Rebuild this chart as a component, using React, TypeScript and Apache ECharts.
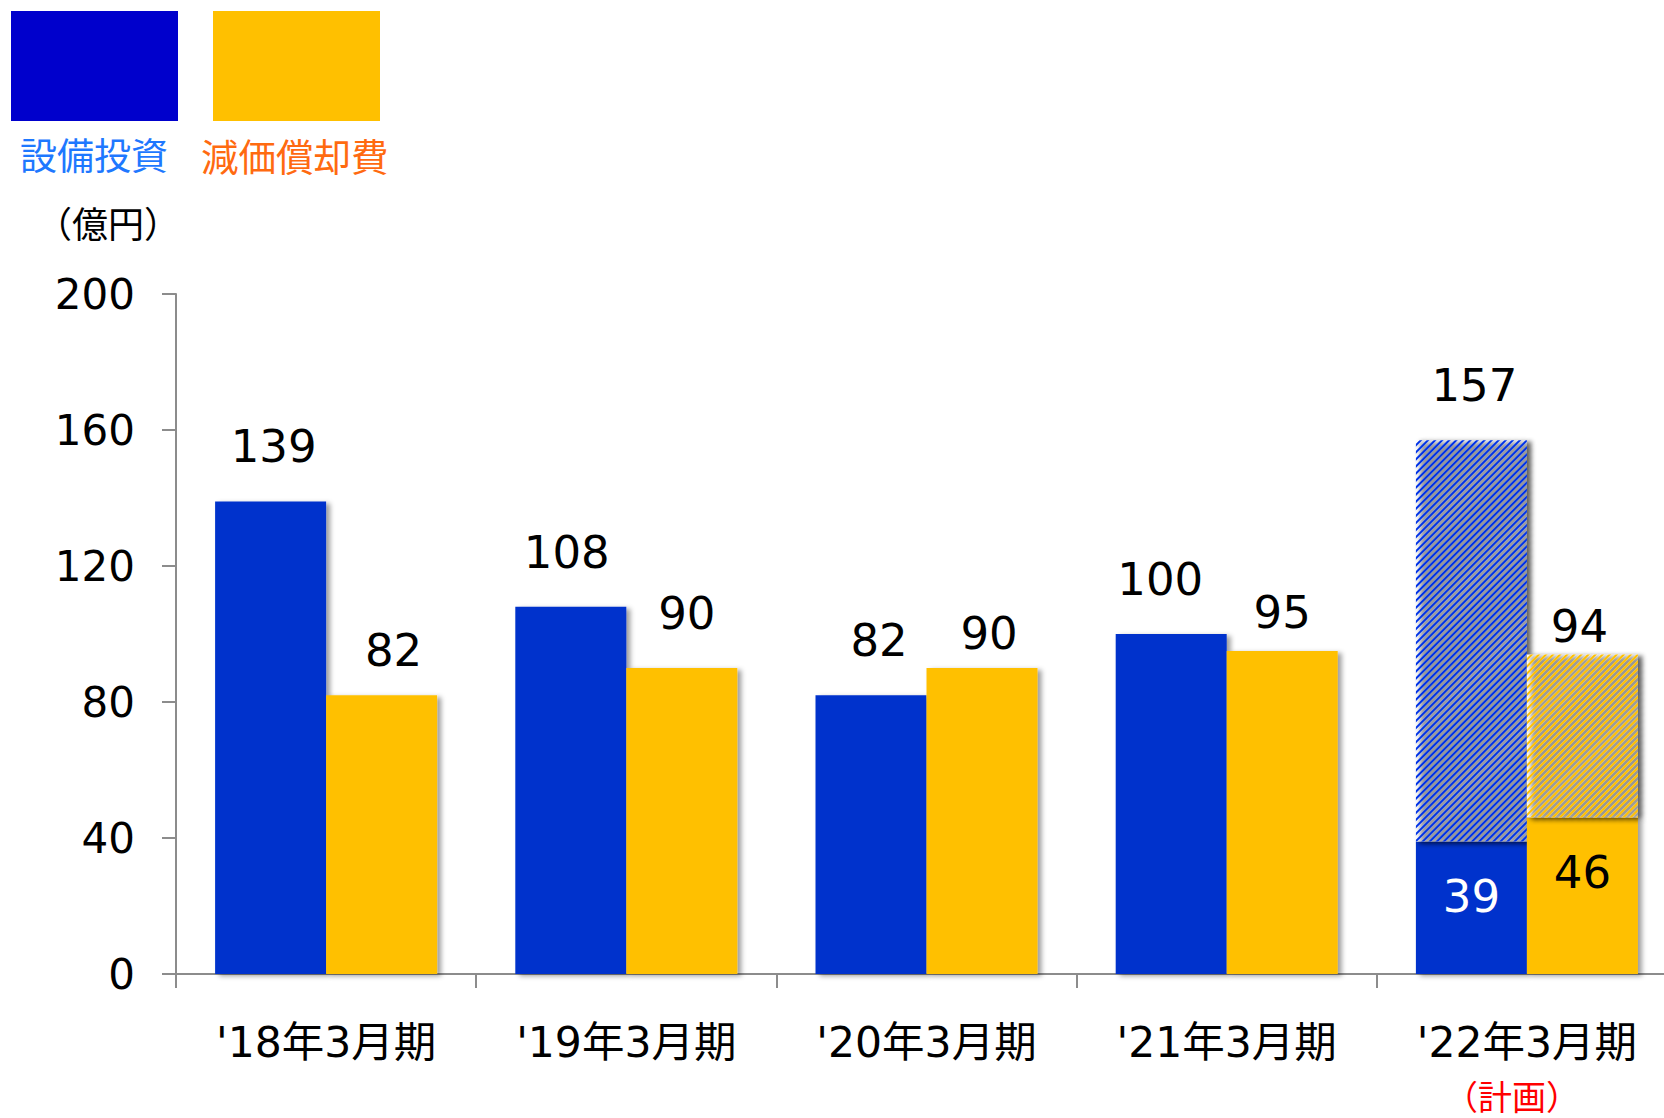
import React, { useEffect, useRef } from "react";
import * as echarts from "echarts";

// ---- data ----
const categories = ["'18年3月期", "'19年3月期", "'20年3月期", "'21年3月期", "'22年3月期"];
const planNote = "（計画）"; // shown under the last category
const capex = [139, 108, 82, 100, 157]; // 設備投資 (億円)
const depreciation = [82, 90, 90, 95, 94]; // 減価償却費 (億円)
const capexActualPlanYear = 39; // solid part of the plan-year bar
const depActualPlanYear = 46;
const yTicks = [0, 40, 80, 120, 160, 200];

// ---- styling helpers (label placement, not data) ----
const capexLabelLift = [32, 32, 32, 32];
const depLabelLift = [22, 32, 12, 16, 5];
const capexLabelShiftX = [3, -4, 8, -11, 3];
const depLabelShiftX = [12, 5, 7, 0, -3];

const FONT_NUM = "'DejaVu Sans', Verdana, sans-serif";
const FONT_JP = "'DejaVu Sans', 'Noto Sans CJK JP', sans-serif";
const FONT_CJK = "'Noto Sans CJK JP', sans-serif";
const BLUE = "#0033CC";
const ORANGE = "#FFC000";
const shadow = {
  shadowColor: "rgba(0,0,0,0.38)",
  shadowBlur: 5,
  shadowOffsetX: 4,
  shadowOffsetY: 2,
};

export default function App() {
  const ref = useRef<HTMLDivElement>(null);

  useEffect(() => {
    if (!ref.current) return;
    const chart = echarts.init(ref.current, undefined, { renderer: "svg" });
    const last = categories.length - 1;

    const numLabel = { fontSize: 45, fontFamily: FONT_NUM, color: "#000" };

    const capexSolid = capex.map((v, i) =>
      i === last
        ? {
            value: capexActualPlanYear,
            label: { show: true, position: "insideTop", distance: 33, ...numLabel, color: "#fff" },
          }
        : {
            value: v,
            label: {
              show: true,
              position: "top",
              distance: capexLabelLift[i],
              offset: [capexLabelShiftX[i], 0],
              ...numLabel,
            },
          }
    );
    const capexHatch = capex.map((v, i) =>
      i === last
        ? {
            value: v - capexActualPlanYear,
            label: {
              show: true,
              position: "top",
              distance: 32,
              offset: [capexLabelShiftX[i], 0],
              ...numLabel,
              formatter: () => String(v),
            },
          }
        : "-"
    );
    const depSolid = depreciation.map((v, i) =>
      i === last
        ? {
            value: depActualPlanYear,
            label: { show: true, position: "insideTop", distance: 32, ...numLabel },
          }
        : {
            value: v,
            label: {
              show: true,
              position: "top",
              distance: depLabelLift[i],
              offset: [depLabelShiftX[i], 0],
              ...numLabel,
            },
          }
    );
    const depHatch = depreciation.map((v, i) =>
      i === last
        ? {
            value: v - depActualPlanYear,
            label: {
              show: true,
              position: "top",
              distance: depLabelLift[i],
              offset: [depLabelShiftX[i], 0],
              ...numLabel,
              formatter: () => String(v),
            },
          }
        : "-"
    );

    const hatch = (color: string) => ({
      symbol: "rect",
      symbolSize: 1,
      dashArrayX: [1, 0],
      dashArrayY: [1.8, 2.8],
      rotation: -Math.PI / 4,
      color,
    });

    const option: any = {
      animation: false,
      backgroundColor: "#fff",
      grid: { left: 176, top: 294, width: 1501, height: 680, containLabel: false },
      xAxis: {
        type: "category",
        data: categories,
        axisLine: { show: true, lineStyle: { color: "#8c8c8c", width: 2 } },
        axisTick: { show: true, interval: 0, length: 14, lineStyle: { color: "#8c8c8c", width: 2 } },
        axisLabel: {
          interval: 0,
          margin: 45,
          fontSize: 42.5,
          fontFamily: FONT_JP,
          color: "#000",
          lineHeight: 46,
        },
      },
      yAxis: {
        type: "value",
        min: yTicks[0],
        max: yTicks[yTicks.length - 1],
        interval: yTicks[1] - yTicks[0],
        axisLine: { show: true, lineStyle: { color: "#8c8c8c", width: 2 } },
        axisTick: { show: true, length: 14, lineStyle: { color: "#8c8c8c", width: 2 } },
        splitLine: { show: false },
        axisLabel: { fontSize: 42, fontFamily: FONT_NUM, color: "#000", margin: 41 },
      },
      series: [
        {
          name: "設備投資",
          type: "bar",
          stack: "capex",
          barWidth: 111,
          barGap: "0%",
          data: capexSolid,
          itemStyle: { color: BLUE, ...shadow },
        },
        {
          name: "設備投資（計画）",
          type: "bar",
          stack: "capex",
          barWidth: 111,
          barGap: "0%",
          data: capexHatch,
          itemStyle: { color: "#ffffff", ...shadow, decal: hatch("#0033E6") },
        },
        {
          name: "減価償却費",
          type: "bar",
          stack: "dep",
          barWidth: 111,
          barGap: "0%",
          data: depSolid,
          itemStyle: { color: ORANGE, ...shadow },
        },
        {
          name: "減価償却費（計画）",
          type: "bar",
          stack: "dep",
          barWidth: 111,
          barGap: "0%",
          data: depHatch,
          itemStyle: { color: "#ffffff", ...shadow, decal: hatch(ORANGE) },
        },
      ],
      graphic: [
        { type: "rect", shape: { x: 11, y: 11, width: 167, height: 110 }, style: { fill: "#0000CC" } },
        { type: "rect", shape: { x: 213, y: 11, width: 167, height: 110 }, style: { fill: ORANGE } },
        {
          type: "text",
          x: 20,
          y: 154,
          style: {
            text: "設備投資",
            fontSize: 37,
            fontFamily: FONT_CJK,
            fill: "#1E78FF",
            align: "left",
            verticalAlign: "middle",
          },
        },
        {
          type: "text",
          x: 201,
          y: 154,
          style: {
            text: "減価償却費",
            fontSize: 37.5,
            fontFamily: FONT_CJK,
            fill: "#FF6A10",
            align: "left",
            verticalAlign: "middle",
          },
        },
        {
          type: "text",
          x: 108,
          y: 222,
          style: {
            text: "（億円）",
            fontSize: 36,
            fontFamily: FONT_CJK,
            fill: "#000",
            align: "center",
            verticalAlign: "middle",
          },
        },
        {
          type: "text",
          x: 1512,
          y: 1095,
          style: {
            text: planNote,
            fontSize: 34,
            fontFamily: FONT_CJK,
            fill: "#FF0000",
            align: "center",
            verticalAlign: "middle",
          },
        },
      ],
    };

    chart.setOption(option);
    return () => chart.dispose();
  }, []);

  return (
    <div
      style={{
        position: "fixed",
        left: 0,
        top: 0,
        width: 1664,
        height: 1118,
        overflow: "hidden",
        background: "#fff",
      }}
    >
      <div ref={ref} style={{ position: "absolute", left: 0, top: 0, width: 1700, height: 1118 }} />
    </div>
  );
}
